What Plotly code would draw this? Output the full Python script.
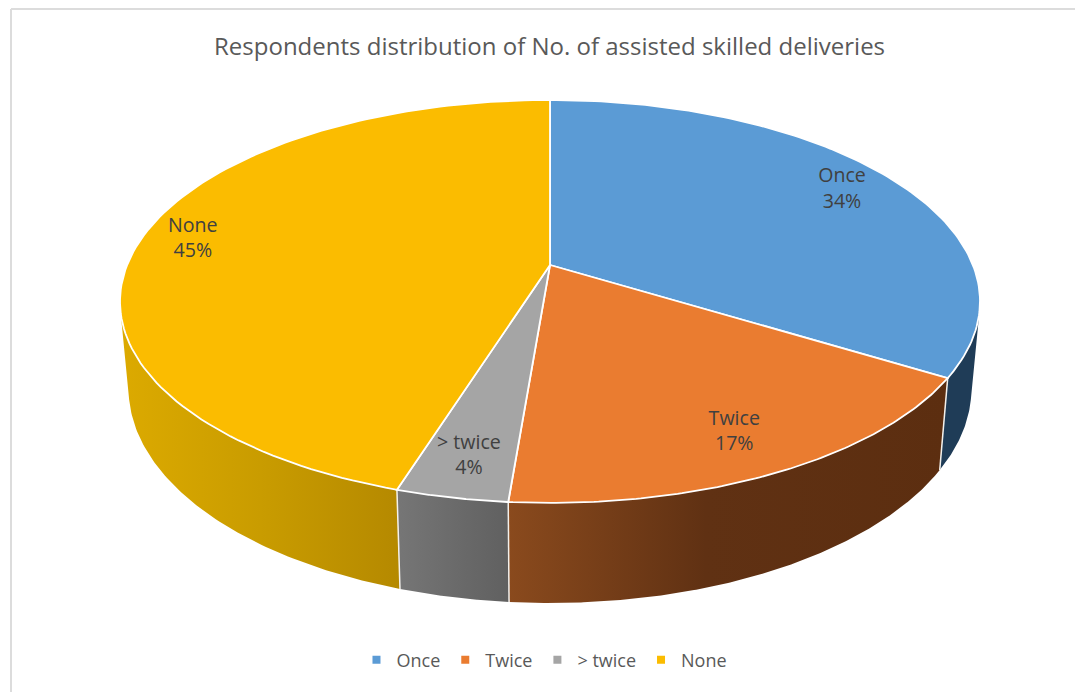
"""3D-look pie chart of assisted skilled deliveries, drawn as filled scatter polygons."""

import numpy as np
import plotly.graph_objects as go

TITLE = "Respondents distribution of No. of assisted skilled deliveries"
categories = ["Once", "Twice", "> twice", "None"]
percent_values = [33.8, 17.49, 3.55, 45.16]
top_colors = ["#5b9bd5", "#ea7c30", "#a5a5a5", "#fbbc00"]
# left to right shading of each side wall
wall_gradients = [
    [[0, "#1f3c57"], [1, "#1f3c57"]],
    [[0, "#8a4a1d"], [0.45, "#603113"], [1, "#5c2e10"]],
    [[0, "#767676"], [1, "#606060"]],
    [[0, "#dcaa00"], [0.5, "#c99c00"], [1, "#b58900"]],
]
label_radius = [0.85, 0.835, 0.85, 0.875]

# projection of the pie disc, in page pixels
CENTER_X, CENTER_Y = 550.0, 265.0
SCALE_X, SCALE_Y = 422.9, 194.9
PERSPECTIVE = 0.181
BASE_SCALE_X, BASE_SCALE_Y, BASE_SHIFT_Y = 0.98, 1.064, 67.8


def project(angle_deg, radius=1.0):
    """Map a clockwise angle from 12 o'clock on the disc to page pixels."""
    angle = np.radians(angle_deg)
    disc_x = radius * np.sin(angle)
    disc_y = -radius * np.cos(angle)
    depth = 1 - PERSPECTIVE * disc_y
    return CENTER_X + SCALE_X * disc_x / depth, CENTER_Y + SCALE_Y * disc_y / depth


def project_base(angle_deg):
    x, y = project(angle_deg)
    return CENTER_X + BASE_SCALE_X * (x - CENTER_X), BASE_SCALE_Y * y + BASE_SHIFT_Y


def faces_viewer(arc):
    """True where the wall at this angle turns towards the viewer."""
    ahead_x, ahead_y = project(arc + 0.1)
    behind_x, behind_y = project(arc - 0.1)
    top_x, top_y = project(arc)
    base_x, base_y = project_base(arc)
    return (ahead_x - behind_x) * (base_y - top_y) - (ahead_y - behind_y) * (base_x - top_x) < 0


boundaries = np.cumsum([0] + percent_values) * 3.6

fig = go.Figure()

# side walls
for i in range(len(categories)):
    arc = np.linspace(boundaries[i], boundaries[i + 1], 240)
    arc = arc[faces_viewer(arc)]
    top_x, top_y = project(arc)
    base_x, base_y = project_base(arc)
    fig.add_trace(
        go.Scatter(
            x=np.concatenate([top_x, base_x[::-1]]),
            y=np.concatenate([top_y, base_y[::-1]]),
            mode="lines",
            fill="toself",
            fillgradient={"type": "horizontal", "colorscale": wall_gradients[i]},
            line={"width": 0},
            hoverinfo="skip",
            showlegend=False,
        )
    )

# white seams between the walls
for angle in boundaries[1:-1]:
    top_x, top_y = project(angle)
    base_x, base_y = project_base(angle)
    fig.add_trace(
        go.Scatter(
            x=[top_x, base_x],
            y=[top_y, base_y],
            mode="lines",
            line={"color": "#f4f1ec", "width": 1.5},
            hoverinfo="skip",
            showlegend=False,
        )
    )

# top faces
for i, name in enumerate(categories):
    arc = np.linspace(boundaries[i], boundaries[i + 1], 120)
    arc_x, arc_y = project(arc)
    fig.add_trace(
        go.Scatter(
            x=np.concatenate([[CENTER_X], arc_x, [CENTER_X]]),
            y=np.concatenate([[CENTER_Y], arc_y, [CENTER_Y]]),
            mode="lines",
            fill="toself",
            fillcolor=top_colors[i],
            line={"color": "#ffffff", "width": 1.8},
            name=name,
            hoverinfo="name",
            showlegend=False,
        )
    )

# slice labels
mid_angles = (boundaries[:-1] + boundaries[1:]) / 2
label_x, label_y = project(mid_angles, np.array(label_radius))
fig.add_trace(
    go.Scatter(
        x=label_x,
        y=label_y,
        mode="text",
        text=[f"{c}<br>{round(v)}%" for c, v in zip(categories, percent_values)],
        textposition="middle center",
        textfont={"family": "Open Sans", "size": 19.6, "color": "#404040"},
        hoverinfo="skip",
        showlegend=False,
    )
)

# legend entries
for i, name in enumerate(categories):
    fig.add_trace(
        go.Scatter(
            x=[None],
            y=[None],
            mode="markers",
            marker={"symbol": "square", "size": 8, "color": top_colors[i]},
            name=name,
        )
    )

fig.update_layout(
    width=1075,
    height=692,
    autosize=False,
    margin={"l": 0, "r": 0, "t": 0, "b": 0},
    paper_bgcolor="#ffffff",
    plot_bgcolor="#ffffff",
    font={"family": "Open Sans", "color": "#595959"},
    title={
        "text": TITLE,
        "x": 0.5112,
        "xanchor": "center",
        "y": 0.932,
        "yanchor": "middle",
        "font": {"family": "Open Sans", "size": 24, "color": "#595959"},
    },
    legend={
        "orientation": "h",
        "x": 0.5065,
        "xanchor": "center",
        "y": 0.046,
        "yanchor": "middle",
        "font": {"size": 18, "color": "#595959"},
        "itemwidth": 30,
        "bgcolor": "rgba(0,0,0,0)",
    },
    xaxis={"range": [0, 1075], "visible": False, "fixedrange": True},
    yaxis={"range": [692, 0], "visible": False, "fixedrange": True},
    # chart frame, cropped on the right and at the bottom
    shapes=[
        {"type": "line", "x0": 11, "x1": 11, "y0": 9, "y1": 692,
         "line": {"color": "#dcdcdc", "width": 2}},
        {"type": "line", "x0": 11, "x1": 1075, "y0": 9, "y1": 9,
         "line": {"color": "#dcdcdc", "width": 2}},
    ],
)

fig.write_html(
    "out.html",
    config={"displayModeBar": False},
    post_script="document.body.style.margin = '0';",
)
